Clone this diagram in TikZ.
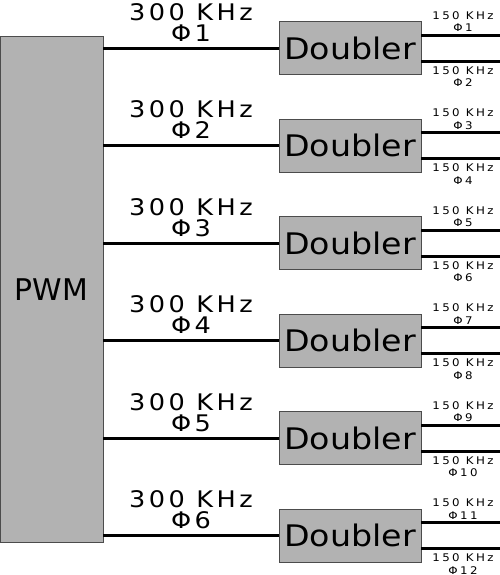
\documentclass[tikz,border=0pt]{standalone}
\usepackage{fontspec}
\setmainfont{DejaVu Sans}
\newfontfamily\wideFont[FakeStretch=1.12,LetterSpace=15]{DejaVu Sans}
\newfontfamily\widerFont[FakeStretch=1.12,LetterSpace=23]{DejaVu Sans}
\newfontfamily\dblFont[FakeStretch=1.12]{DejaVu Sans}
\usetikzlibrary{calc}

% one doubler row: #1 = y, #2 = row, #3 / #4 = output phases
\newcommand\drawDoubler[4]{%
\node[dbl] (dbl#2) at (350,#1) {Doubler};
\draw[wire] (dbl#2.west -| pwm.east) -- (dbl#2.west);
\node[biglbl] (inA#2) at (191,#1-28) {300 KHz};
\node[biglbl] (inB#2) at (191,#1-7) {Φ#2};
\coordinate (out#3) at (500,#1-13);
\coordinate (out#4) at (500,#1+13);
\draw[wire] (dbl#2.east |- out#3) -- (out#3);
\draw[wire] (dbl#2.east |- out#4) -- (out#4);
\node[smlbl] (outA#3) at (463,#1-29) {150 KHz};
\node[smlbl] (outB#3) at (463,#1-16.5) {Φ#3};
\node[smlbl] (outA#4) at (463,#1+25.7) {150 KHz};
\node[smlbl] (outB#4) at (463,#1+38.5) {Φ#4};
}

\begin{document}
\begin{tikzpicture}[x=0.02cm,y=-0.02cm,
			box/.style={draw=black!70, line width=0.55pt, fill=black!30, inner sep=0pt},
			dbl/.style={box, minimum width=2.84cm, minimum height=1.06cm, font=\dblFont\fontsize{16.9}{18}\selectfont},
			wire/.style={line width=1.7pt},
			biglbl/.style={anchor=base, inner sep=0pt, font=\wideFont\fontsize{13}{14}\selectfont},
			smlbl/.style={anchor=base, inner sep=0pt, font=\widerFont\fontsize{6}{7}\selectfont}]

			\useasboundingbox (0,0) rectangle (500,575);

			% PWM block
			\node[box, minimum width=2.06cm, minimum height=10.14cm,
				font=\fontsize{17}{18}\selectfont] (pwm) at (51.5,289.5) {PWM};

			% doubler rows
			\drawDoubler{48.3}{1}{1}{2}
			\drawDoubler{145.8}{2}{3}{4}
			\drawDoubler{243.3}{3}{5}{6}
			\drawDoubler{340.8}{4}{7}{8}
			\drawDoubler{438.3}{5}{9}{10}
			\drawDoubler{535.8}{6}{11}{12}

		\end{tikzpicture}
\end{document}
